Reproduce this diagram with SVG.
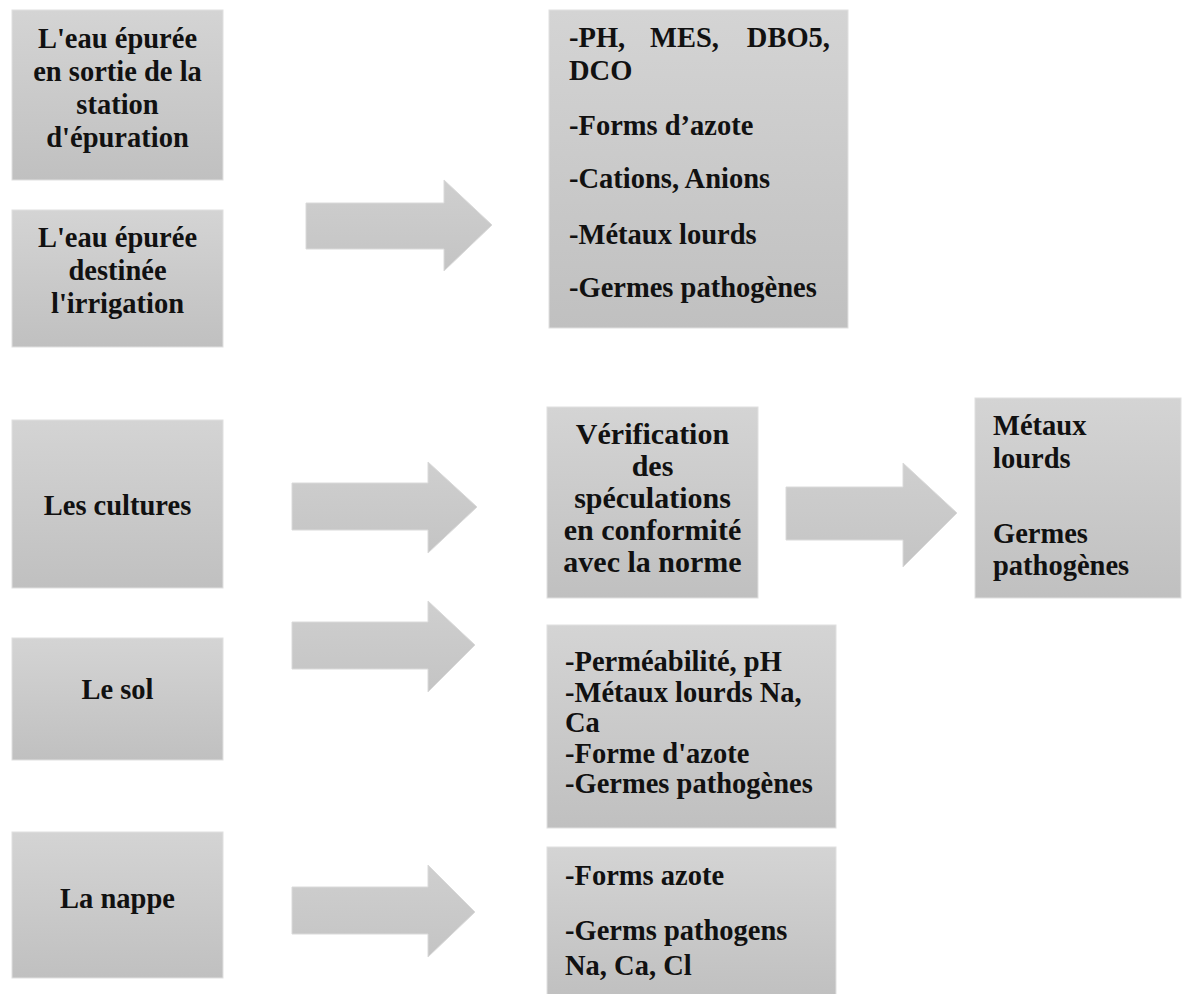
<svg xmlns="http://www.w3.org/2000/svg" width="1182" height="994" viewBox="0 0 1182 994">
<defs>
<linearGradient id="g" x1="0" y1="0" x2="0" y2="1">
<stop offset="0" stop-color="#d4d4d4"/>
<stop offset="1" stop-color="#c0c0c0"/>
</linearGradient>
<linearGradient id="ga" x1="0" y1="0" x2="0" y2="1">
<stop offset="0" stop-color="#cfcfcf"/>
<stop offset="1" stop-color="#c4c4c4"/>
</linearGradient>
<style>
.box{fill:url(#g);stroke:#e0e0e0;stroke-width:1}
.arr{fill:url(#ga);stroke:#dadada;stroke-width:1}
text{font-family:"Liberation Serif","Times New Roman",serif;font-weight:bold;font-size:28.5px;fill:#111}
.c{text-anchor:middle}
.v{font-size:30px}
</style>
</defs>
<rect width="1182" height="994" fill="#ffffff"/>
<g id="connectors">
<polygon class="arr" points="306,203 444,203 444,180 492,225 444,271 444,249 306,249"/>
<polygon class="arr" points="292,483 428,483 428,462 477,507 428,553 428,530 292,530"/>
<polygon class="arr" points="292,622 428,622 428,601 475,645 428,692 428,669 292,669"/>
<polygon class="arr" points="292,887 428,887 428,865 475,912 428,957 428,934 292,934"/>
<polygon class="arr" points="786,487 903,487 903,463 957,513 903,567 903,540 786,540"/>
</g>
<g id="n-sortie">
<rect class="box" x="12" y="10" width="211" height="170"/>
<text class="c" x="117.5" y="48">L'eau épurée</text>
<text class="c" x="117.5" y="81">en sortie de la</text>
<text class="c" x="117.5" y="114">station</text>
<text class="c" x="117.5" y="147">d'épuration</text>
</g>
<g id="n-irrigation">
<rect class="box" x="12" y="210" width="211" height="137"/>
<text class="c" x="117.5" y="247">L'eau épurée</text>
<text class="c" x="117.5" y="280">destinée</text>
<text class="c" x="117.5" y="313">l'irrigation</text>
</g>
<g id="n-params-eau">
<rect class="box" x="549" y="10" width="299" height="318"/>
<text x="569" y="47">-PH,</text>
<text x="650" y="47">MES,</text>
<text x="830" y="47" text-anchor="end">DBO5,</text>
<text x="569" y="80">DCO</text>
<text x="569" y="135">-Forms d’azote</text>
<text x="569" y="188">-Cations, Anions</text>
<text x="569" y="244">-Métaux lourds</text>
<text x="569" y="297">-Germes pathogènes</text>
</g>
<g id="n-cultures">
<rect class="box" x="12" y="420" width="211" height="168"/>
<text class="c" x="117.5" y="515">Les cultures</text>
</g>
<g id="n-verification">
<rect class="box" x="547" y="407" width="211" height="191"/>
<text class="c v" x="652.5" y="444">Vérification</text>
<text class="c v" x="652.5" y="476">des</text>
<text class="c v" x="652.5" y="508">spéculations</text>
<text class="c v" x="652.5" y="540">en conformité</text>
<text class="c v" x="652.5" y="572">avec la norme</text>
</g>
<g id="n-metaux">
<rect class="box" x="975" y="398" width="206" height="200"/>
<text x="993" y="435">Métaux</text>
<text x="993" y="468">lourds</text>
<text x="993" y="543">Germes</text>
<text x="993" y="575">pathogènes</text>
</g>
<g id="n-sol">
<rect class="box" x="12" y="638" width="211" height="122"/>
<text class="c" x="117.5" y="699">Le sol</text>
</g>
<g id="n-params-sol">
<rect class="box" x="547" y="625" width="289" height="203"/>
<text x="565" y="671">-Perméabilité, pH</text>
<text x="565" y="702">-Métaux lourds Na,</text>
<text x="565" y="732">Ca</text>
<text x="565" y="763">-Forme d'azote</text>
<text x="565" y="793">-Germes pathogènes</text>
</g>
<g id="n-nappe">
<rect class="box" x="12" y="832" width="211" height="146"/>
<text class="c" x="117.5" y="908">La nappe</text>
</g>
<g id="n-params-nappe">
<rect class="box" x="547" y="847" width="289" height="150"/>
<text x="565" y="885">-Forms azote</text>
<text x="565" y="940">-Germs pathogens</text>
<text x="565" y="975">Na, Ca, Cl</text>
</g>
</svg>
